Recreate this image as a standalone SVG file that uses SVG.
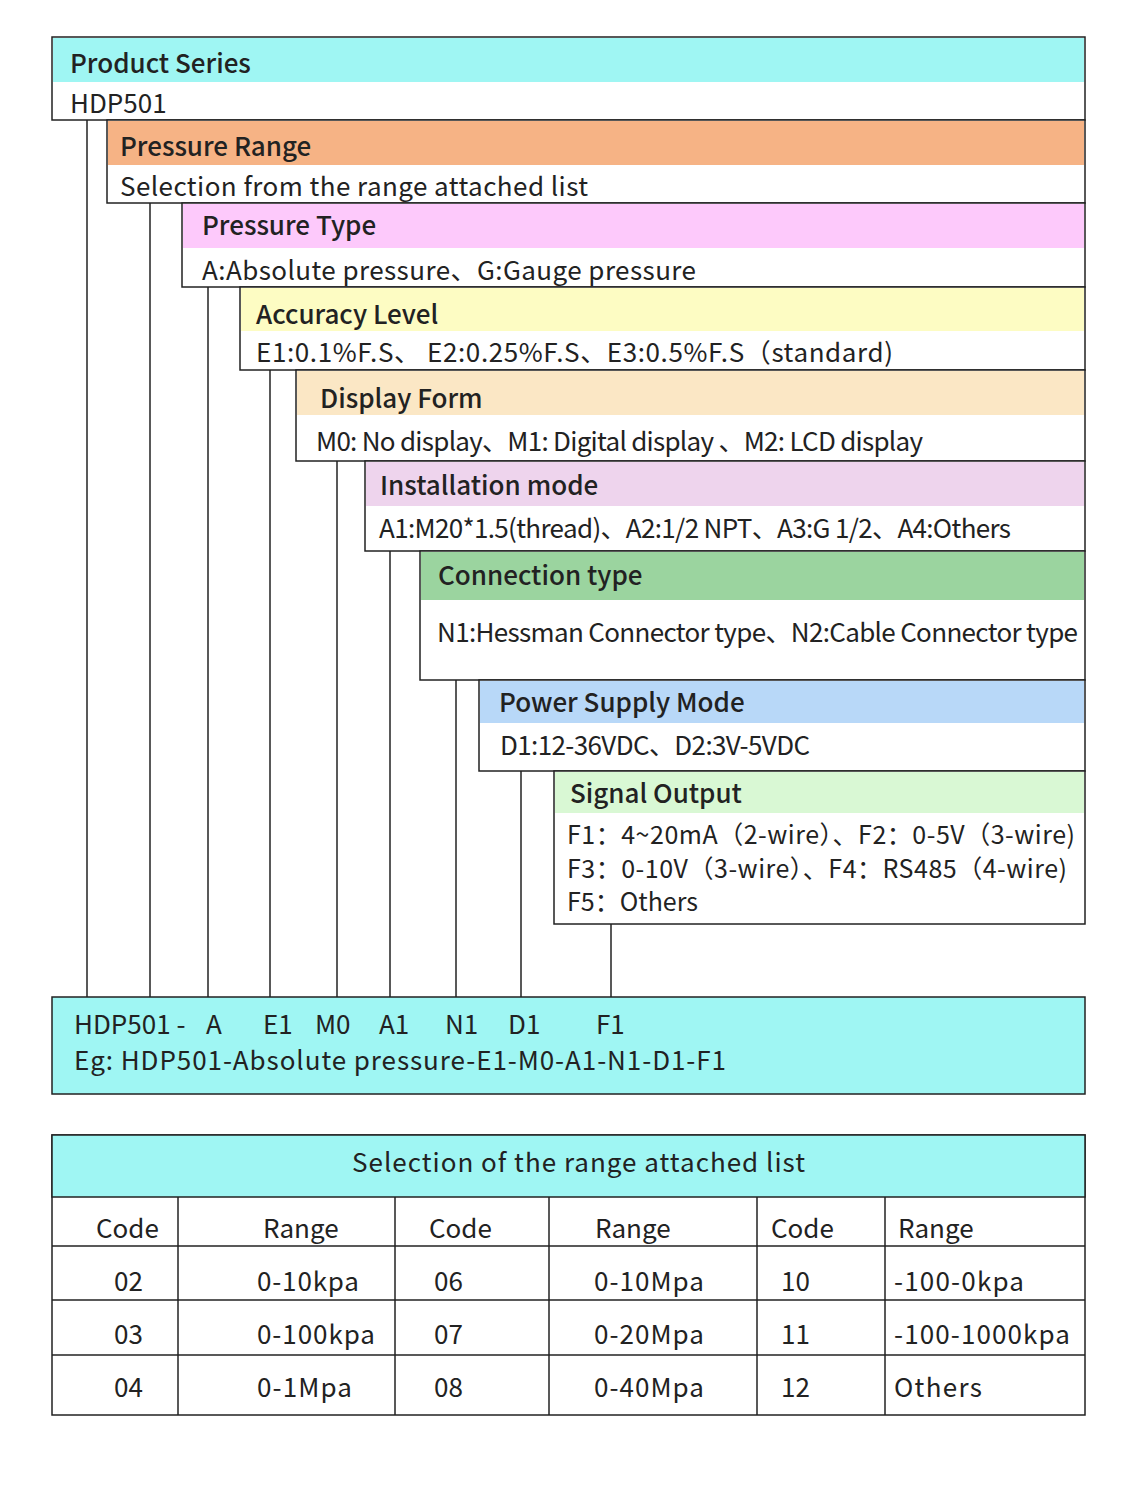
<svg xmlns="http://www.w3.org/2000/svg" width="1138" height="1500" viewBox="0 0 1138 1500">
<style>
text{font-family:"Noto Sans CJK SC","Noto Sans",sans-serif;font-size:26px;fill:#222}
.h{font-weight:500}
.s{font-size:25px}
.b{fill:#fff;stroke:#222;stroke-width:1.5}
.l{stroke:#222;stroke-width:1.5;fill:none}
</style>
<rect width="1138" height="1500" fill="#fff"/>
<g id="connectors" class="l">
<line x1="87" y1="120" x2="87" y2="997"/>
<line x1="150" y1="203" x2="150" y2="997"/>
<line x1="208" y1="287" x2="208" y2="997"/>
<line x1="270" y1="370" x2="270" y2="997"/>
<line x1="337" y1="461" x2="337" y2="997"/>
<line x1="390" y1="551" x2="390" y2="997"/>
<line x1="456" y1="680" x2="456" y2="997"/>
<line x1="521" y1="771" x2="521" y2="997"/>
<line x1="611" y1="924" x2="611" y2="997"/>
</g>
<g id="product-series"><rect class="b" x="52" y="37" width="1033" height="83"/><rect x="53" y="38" width="1031" height="44" fill="#9ff6f3"/><text class="h" x="70" y="73">Product Series</text><text x="70" y="113">HDP501</text></g>
<g id="pressure-range"><rect class="b" x="107" y="120" width="978" height="83"/><rect x="108" y="121" width="976" height="44" fill="#f6b385"/><text class="h" x="120" y="156">Pressure Range</text><text x="120" y="196" textLength="468">Selection from the range attached list</text></g>
<g id="pressure-type"><rect class="b" x="182" y="203" width="903" height="84"/><rect x="183" y="204" width="901" height="44" fill="#fdc9fb"/><text class="h" x="202" y="235">Pressure Type</text><text x="202" y="280" textLength="494">A:Absolute pressure、G:Gauge pressure</text></g>
<g id="accuracy-level"><rect class="b" x="240" y="287" width="845" height="83"/><rect x="241" y="288" width="843" height="43" fill="#fdfcc3"/><text class="h" x="256" y="324">Accuracy Level</text><text x="256" y="362" textLength="637">E1:0.1%F.S、 E2:0.25%F.S、E3:0.5%F.S（standard)</text></g>
<g id="display-form"><rect class="b" x="296" y="370" width="789" height="91"/><rect x="297" y="371" width="787" height="44" fill="#fbe7c5"/><text class="h" x="320" y="408">Display Form</text><text x="316" y="451" textLength="607">M0: No display、M1: Digital display 、M2: LCD display</text></g>
<g id="installation-mode"><rect class="b" x="365" y="461" width="720" height="90"/><rect x="366" y="462" width="718" height="44" fill="#eed4ed"/><text class="h" x="380" y="495">Installation mode</text><text x="379" y="538" textLength="632">A1:M20*1.5(thread)、A2:1/2 NPT、A3:G 1/2、A4:Others</text></g>
<g id="connection-type"><rect class="b" x="420" y="551" width="665" height="129"/><rect x="421" y="552" width="663" height="48" fill="#9bd49f"/><text class="h" x="438" y="585">Connection type</text><text x="437" y="642" textLength="641">N1:Hessman Connector type、N2:Cable Connector type</text></g>
<g id="power-supply"><rect class="b" x="479" y="680" width="606" height="91"/><rect x="480" y="681" width="604" height="42" fill="#b8d8f8"/><text class="h" x="499" y="712">Power Supply Mode</text><text x="500" y="755" textLength="310">D1:12-36VDC、D2:3V-5VDC</text></g>
<g id="signal-output"><rect class="b" x="554" y="771" width="531" height="153"/><rect x="555" y="772" width="529" height="41" fill="#d9f8d4"/><text class="h" x="570" y="803">Signal Output</text><text class="s" x="567" y="844" textLength="508">F1：4~20mA（2-wire）、F2：0-5V（3-wire)</text><text class="s" x="567" y="878" textLength="500">F3：0-10V（3-wire）、F4：RS485（4-wire)</text><text class="s" x="567" y="911">F5：Others</text></g>
<g id="example"><rect x="52" y="997" width="1033" height="97" fill="#9ff6f3" stroke="#222" stroke-width="1.5"/>
<text x="74" y="1034">HDP501 -</text><text x="206" y="1034">A</text><text x="263" y="1034">E1</text><text x="315" y="1034">M0</text><text x="379" y="1034">A1</text><text x="445" y="1034">N1</text><text x="508" y="1034">D1</text><text x="596" y="1034">F1</text>
<text x="74" y="1070" textLength="652">Eg: HDP501-Absolute pressure-E1-M0-A1-N1-D1-F1</text></g>
<g id="range-table">
<rect x="52" y="1135" width="1033" height="280" fill="#fff" stroke="#222" stroke-width="1.5"/>
<rect x="52" y="1135" width="1033" height="62" fill="#9ff6f3" stroke="#222" stroke-width="1.5"/>
<text x="352" y="1172" textLength="453">Selection of the range attached list</text>
<g class="l"><line x1="52" y1="1246" x2="1085" y2="1246"/><line x1="52" y1="1300" x2="1085" y2="1300"/><line x1="52" y1="1355" x2="1085" y2="1355"/>
<line x1="178" y1="1197" x2="178" y2="1415"/><line x1="395" y1="1197" x2="395" y2="1415"/><line x1="549" y1="1197" x2="549" y2="1415"/><line x1="757" y1="1197" x2="757" y2="1415"/><line x1="885" y1="1197" x2="885" y2="1415"/></g>
<text x="96" y="1238">Code</text><text x="263" y="1238">Range</text><text x="429" y="1238">Code</text><text x="595" y="1238">Range</text><text x="771" y="1238">Code</text><text x="898" y="1238">Range</text>
<text x="114" y="1291">02</text><text x="257" y="1291" textLength="102">0-10kpa</text><text x="434" y="1291">06</text><text x="594" y="1291" textLength="110">0-10Mpa</text><text x="781" y="1291">10</text><text x="894" y="1291" textLength="130">-100-0kpa</text>
<text x="114" y="1344">03</text><text x="257" y="1344" textLength="118">0-100kpa</text><text x="434" y="1344">07</text><text x="594" y="1344" textLength="110">0-20Mpa</text><text x="781" y="1344">11</text><text x="894" y="1344" textLength="176">-100-1000kpa</text>
<text x="114" y="1397">04</text><text x="257" y="1397" textLength="95">0-1Mpa</text><text x="434" y="1397">08</text><text x="594" y="1397" textLength="110">0-40Mpa</text><text x="781" y="1397">12</text><text x="894" y="1397" textLength="88">Others</text>
</g>
</svg>
